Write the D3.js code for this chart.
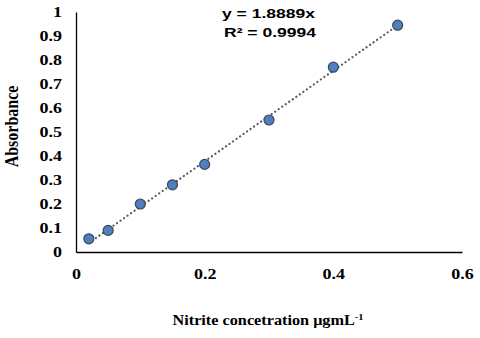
<!DOCTYPE html>
<html>
<head>
<meta charset="utf-8">
<script src="https://cdn.jsdelivr.net/npm/d3@7"></script>
<style>
  body { margin: 0; background: #fff; }
</style>
</head>
<body>
<script>
var conc = [0.02, 0.05, 0.1, 0.15, 0.2, 0.3, 0.4, 0.5];
var absorbance = [0.055, 0.09, 0.2, 0.28, 0.365, 0.55, 0.77, 0.945];
var xTicks = [0, 0.2, 0.4, 0.6];
var yTicks = [0, 0.1, 0.2, 0.3, 0.4, 0.5, 0.6, 0.7, 0.8, 0.9, 1];
var slope = 1.8889;

var margin = { top: 12, right: 18, bottom: 86, left: 76 };
var width = 480 - margin.left - margin.right;
var height = 338 - margin.top - margin.bottom;
var stretch = 1.2; // o texto do original está esticado na horizontal

var svg = d3.select("body")
    .append("svg")
    .attr("width", 480)
    .attr("height", 338)
    .append("g")
    .attr("transform", "translate(" + margin.left + "," + margin.top + ")");

var x = d3.scaleLinear().domain([0, 0.6]).range([0, width]);
var y = d3.scaleLinear().domain([0, 1]).range([height, 0]);

var fmt = d => (d === 0 || d === 1) ? String(d) : d3.format(".1f")(d);

// eixos
var xAxis = svg.append("g")
    .attr("transform", "translate(0," + height + ")")
    .call(d3.axisBottom(x).tickValues(xTicks).tickSize(0).tickPadding(16).tickFormat(fmt));
var yAxis = svg.append("g")
    .call(d3.axisLeft(y).tickValues(yTicks).tickSize(0).tickPadding(14).tickFormat(fmt));

[xAxis, yAxis].forEach(function(a) {
    a.select(".domain").attr("stroke", "#000").attr("stroke-width", 1.3);
    a.selectAll("text")
        .style("font-family", "'Liberation Serif', 'Times New Roman', serif")
        .style("font-weight", "bold")
        .style("font-size", "15px")
        .attr("fill", "#000")
        .attr("transform", "scale(" + stretch + ",1)");
});
yAxis.selectAll("text").attr("x", -14 / stretch);

// linha de tendência
var xs = d3.extent(conc);
svg.append("line")
    .attr("x1", x(xs[0]))
    .attr("y1", y(slope * xs[0]))
    .attr("x2", x(xs[1]))
    .attr("y2", y(slope * xs[1]))
    .attr("stroke", "#595959")
    .attr("stroke-width", 2.2)
    .attr("stroke-linecap", "round")
    .attr("stroke-dasharray", "0.1,4.2");

// pontos
svg.selectAll("circle")
    .data(conc)
    .enter()
    .append("circle")
    .attr("cx", d => x(d))
    .attr("cy", (d, i) => y(absorbance[i]))
    .attr("r", 5)
    .attr("fill", "#4f7fbf")
    .attr("stroke", "#3b4756")
    .attr("stroke-width", 1.2);

// equação
svg.append("text")
    .text("y = 1.8889x")
    .attr("transform", "translate(146,6) scale(1.3,1)")
    .style("font-family", "'Liberation Sans', Arial, sans-serif")
    .style("font-weight", "bold")
    .style("font-size", "13.5px");
svg.append("text")
    .attr("transform", "translate(148,25) scale(1.3,1)")
    .style("font-family", "'Liberation Sans', Arial, sans-serif")
    .style("font-weight", "bold")
    .style("font-size", "13.5px")
    .text("R² = 0.9994");

// rótulo de eixo y
svg.append("text")
    .text("Absorbance")
    .attr("transform", "translate(-58,114.5) rotate(-90) scale(1," + stretch + ")")
    .attr("text-anchor", "middle")
    .style("font-family", "'Liberation Serif', 'Times New Roman', serif")
    .style("font-weight", "bold")
    .style("font-size", "16px");

// rótulo de eixo x
var xl = svg.append("text")
    .attr("transform", "translate(192," + (height + 73) + ") scale(1.16,1)")
    .attr("text-anchor", "middle")
    .style("font-family", "'Liberation Serif', 'Times New Roman', serif")
    .style("font-weight", "bold")
    .style("font-size", "14px");
xl.append("tspan").text("Nitrite concetration μgmL");
xl.append("tspan").text("-1").attr("dy", -5).style("font-size", "9px");
</script>
</body>
</html>
